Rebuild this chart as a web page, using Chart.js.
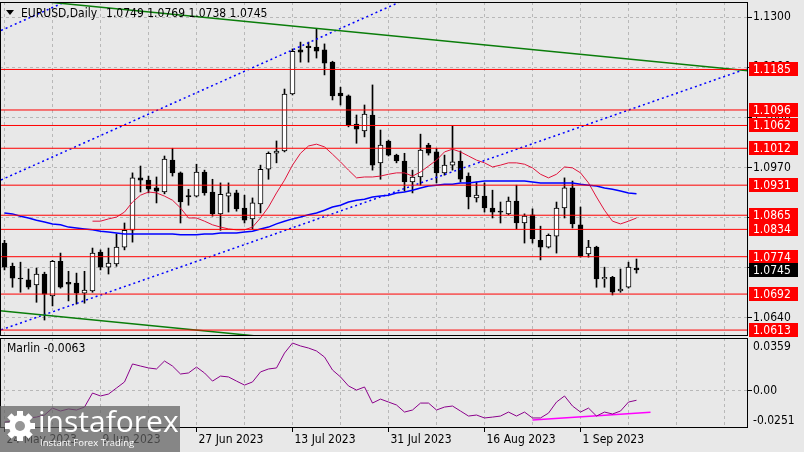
<!DOCTYPE html>
<html>
<head>
<meta charset="utf-8">
<title>EURUSD Daily</title>
<script src="https://cdn.jsdelivr.net/npm/chart.js@4.4.0/dist/chart.umd.min.js"></script>
<style>
  html, body { margin: 0; padding: 0; background: #e8e8e8; }
  #wrap { position: relative; width: 804px; height: 452px; overflow: hidden; }
  canvas { position: absolute; left: 0; }
  #priceCanvas { top: 0; }
  #marlinCanvas { top: 337px; }
</style>
</head>
<body>
<div id="wrap">
  <canvas id="priceCanvas" width="804" height="337"></canvas>
  <canvas id="marlinCanvas" width="804" height="115"></canvas>
</div>
<script>
const FONT_FAMILY = '"DejaVu Sans Condensed", "DejaVu Sans", sans-serif';
const GRID = '#b8b8b8';

// one label every 12 daily bars, starting at bar 0
const dateLabels = ['24 May 2023', '9 Jun 2023', '27 Jun 2023', '13 Jul 2023', '31 Jul 2023', '16 Aug 2023', '1 Sep 2023'];

const opens  = [1.0804, 1.0753, 1.0727, 1.0723, 1.0712, 1.0736, 1.0688, 1.0764, 1.0718, 1.0716,
                1.0694, 1.0699, 1.0784, 1.0751, 1.0758, 1.0795, 1.0832, 1.0947, 1.0942, 1.0925,
                1.0916, 1.0986, 1.0958, 1.0908, 1.0907, 1.0960, 1.0916, 1.0868, 1.0907, 1.0914,
                1.0881, 1.0857, 1.0890, 1.0966, 1.1001, 1.1006, 1.1131, 1.1228, 1.1236, 1.1234,
                1.1228, 1.1201, 1.1133, 1.1127, 1.1065, 1.1050, 1.1085, 1.0980, 1.1028, 1.0997,
                1.0984, 1.0938, 1.0949, 1.1019, 1.1004, 1.0958, 1.0975, 1.0984, 1.0951, 1.0903,
                1.0907, 1.0881, 1.0874, 1.0868, 1.0896, 1.0848, 1.0866, 1.0810, 1.0795, 1.0819,
                1.0881, 1.0925, 1.0844, 1.0780, 1.0795, 1.0725, 1.0729, 1.0699, 1.0707, 1.0749];
const highs  = [1.0810, 1.0760, 1.0762, 1.0747, 1.0749, 1.0740, 1.0766, 1.0782, 1.0742, 1.0738,
                1.0742, 1.0793, 1.0789, 1.0793, 1.0824, 1.0848, 1.0958, 1.0973, 1.0951, 1.0949,
                1.0995, 1.1012, 1.0960, 1.0922, 1.0977, 1.0964, 1.0944, 1.0936, 1.0936, 1.0920,
                1.0909, 1.0903, 1.0975, 1.1004, 1.1028, 1.1142, 1.1230, 1.1245, 1.1245, 1.1274,
                1.1241, 1.1203, 1.1146, 1.1129, 1.1085, 1.1107, 1.1151, 1.1052, 1.1030, 1.0999,
                1.1001, 1.0964, 1.1043, 1.1023, 1.1012, 1.0997, 1.1061, 1.1006, 1.0958, 1.0938,
                1.0936, 1.0920, 1.0894, 1.0905, 1.0931, 1.0868, 1.0879, 1.0841, 1.0824, 1.0894,
                1.0947, 1.0940, 1.0883, 1.0810, 1.0797, 1.0751, 1.0731, 1.0747, 1.0762, 1.0769];
const lows   = [1.0745, 1.0707, 1.0696, 1.0703, 1.0674, 1.0635, 1.0666, 1.0705, 1.0677, 1.0670,
                1.0672, 1.0696, 1.0745, 1.0736, 1.0753, 1.0789, 1.0806, 1.0916, 1.0914, 1.0892,
                1.0912, 1.0951, 1.0848, 1.0887, 1.0905, 1.0909, 1.0863, 1.0832, 1.0872, 1.0874,
                1.0848, 1.0835, 1.0870, 1.0944, 1.0980, 1.1004, 1.1129, 1.1201, 1.1201, 1.1210,
                1.1173, 1.1118, 1.1107, 1.1059, 1.1023, 1.1037, 1.0964, 1.0944, 1.0995, 1.0980,
                1.0918, 1.0914, 1.0931, 1.0997, 1.0936, 1.0953, 1.0964, 1.0938, 1.0879, 1.0894,
                1.0872, 1.0859, 1.0848, 1.0866, 1.0835, 1.0804, 1.0804, 1.0767, 1.0793, 1.0782,
                1.0859, 1.0837, 1.0773, 1.0773, 1.0707, 1.0707, 1.0690, 1.0696, 1.0705, 1.0738];
const closes = [1.0751, 1.0727, 1.0725, 1.0707, 1.0736, 1.0692, 1.0764, 1.0707, 1.0714, 1.0694,
                1.0701, 1.0782, 1.0751, 1.0760, 1.0795, 1.0832, 1.0947, 1.0942, 1.0922, 1.0918,
                1.0988, 1.0958, 1.0894, 1.0905, 1.0960, 1.0914, 1.0868, 1.0911, 1.0914, 1.0879,
                1.0854, 1.0892, 1.0966, 1.1001, 1.1006, 1.1131, 1.1225, 1.1223, 1.1233, 1.1225,
                1.1199, 1.1127, 1.1127, 1.1063, 1.1054, 1.1087, 1.0975, 1.1019, 1.0997, 1.0984,
                1.0938, 1.0949, 1.1008, 1.1001, 1.0958, 1.0975, 1.0982, 1.0944, 1.0905, 1.0909,
                1.0881, 1.0872, 1.0872, 1.0896, 1.0848, 1.0863, 1.0813, 1.0795, 1.0821, 1.0881,
                1.0925, 1.0846, 1.0775, 1.0795, 1.0725, 1.0729, 1.0696, 1.0703, 1.0751, 1.0745];

// red (fast) and blue (slow) moving averages
const maFast = [null, null, null, null, null, null, null, null, null, null,
                null, 1.0852, 1.0852, 1.0857, 1.0861, 1.0872, 1.0894, 1.0909, 1.0916, 1.0914,
                1.0907, 1.0898, 1.0881, 1.0859, 1.0859, 1.0852, 1.0844, 1.0839, 1.0835, 1.0833,
                1.0833, 1.0839, 1.0859, 1.0883, 1.0914, 1.0942, 1.0975, 1.1001, 1.1017, 1.1021,
                1.1015, 1.0999, 1.0982, 1.0964, 1.0947, 1.0949, 1.0949, 1.0951, 1.0955, 1.0958,
                1.0958, 1.0951, 1.0960, 1.0973, 1.0986, 1.1004, 1.1010, 1.1004, 1.0995, 1.0986,
                1.0980, 1.0971, 1.0975, 1.0980, 1.0980, 1.0977, 1.0969, 1.0955, 1.0947, 1.0955,
                1.0971, 1.0969, 1.0958, 1.0936, 1.0905, 1.0876, 1.0852, 1.0846, 1.0852, 1.0859];
const maSlow = [1.0870, 1.0868, 1.0863, 1.0859, 1.0854, 1.0850, 1.0846, 1.0844, 1.0839, 1.0837,
                1.0835, 1.0833, 1.0830, 1.0828, 1.0826, 1.0824, 1.0824, 1.0824, 1.0824, 1.0824,
                1.0824, 1.0824, 1.0822, 1.0822, 1.0822, 1.0824, 1.0824, 1.0826, 1.0826, 1.0826,
                1.0828, 1.0830, 1.0835, 1.0839, 1.0846, 1.0852, 1.0857, 1.0861, 1.0866, 1.0870,
                1.0876, 1.0883, 1.0887, 1.0894, 1.0898, 1.0900, 1.0905, 1.0907, 1.0909, 1.0914,
                1.0916, 1.0920, 1.0925, 1.0929, 1.0931, 1.0933, 1.0933, 1.0936, 1.0936, 1.0938,
                1.0940, 1.0940, 1.0940, 1.0940, 1.0940, 1.0940, 1.0938, 1.0936, 1.0936, 1.0936,
                1.0936, 1.0936, 1.0933, 1.0931, 1.0929, 1.0925, 1.0922, 1.0918, 1.0914, 1.0912];

const marlin = [-0.0211, -0.0204, -0.0197, -0.0183, -0.0177, -0.0163, -0.0116, -0.0136, -0.0122, -0.0129,
                -0.0109, -0.0014, -0.0034, -0.0021, 0.0020, 0.0061, 0.0183, 0.0169, 0.0156, 0.0149,
                0.0203, 0.0169, 0.0115, 0.0122, 0.0162, 0.0122, 0.0067, 0.0101, 0.0095, 0.0067,
                0.0040, 0.0061, 0.0129, 0.0149, 0.0156, 0.0257, 0.0325, 0.0305, 0.0291, 0.0271,
                0.0230, 0.0142, 0.0095, 0.0034, 0.0006, 0.0027, -0.0082, -0.0055, -0.0075, -0.0095,
                -0.0143, -0.0129, -0.0082, -0.0082, -0.0129, -0.0109, -0.0102, -0.0136, -0.0170, -0.0163,
                -0.0183, -0.0177, -0.0170, -0.0143, -0.0170, -0.0143, -0.0183, -0.0183, -0.0150, -0.0075,
                -0.0034, -0.0102, -0.0143, -0.0116, -0.0170, -0.0143, -0.0156, -0.0136, -0.0075, -0.0063];

const levels = [1.1185, 1.1096, 1.1062, 1.1012, 1.0931, 1.0865, 1.0834, 1.0774, 1.0692, 1.0613];
const priceTicks = [1.0640, 1.0750, 1.0860, 1.0970, 1.1080, 1.1190, 1.1300];
const marlinRange = [-0.0251, 0.0359];

// trend lines as [bar, price] pairs
const greenUpper = [[-1, 1.1344], [93, 1.1182]];
const greenLower = [[-1, 1.0656], [93, 1.0494]];
const blueLower  = [[-1, 1.0610], [93, 1.1188]];
const blueUpper  = [[-1, 1.0938], [60, 1.1416]];
const blueTop    = [[-1, 1.1266], [12, 1.1368]];
const marlinSupport = [[66, -0.0197], [80.75, -0.0145]];

const gridBars = Array.from({ length: 16 }, (_, k) => k * 6);
const last = closes.length - 1;

Chart.defaults.font.family = FONT_FAMILY;
Chart.defaults.font.size = 12;
Chart.defaults.color = '#000';

const toPoints = arr => arr.map(([x, y]) => ({ x, y }));
const seriesPoints = arr => arr.map((v, i) => ({ x: i, y: v })).filter(p => p.y !== null);

function lineSet(data, color, width, dash) {
    return {
        type: 'line',
        data,
        borderColor: color,
        borderWidth: width,
        borderDash: dash || [],
        pointRadius: 0,
        fill: false,
        tension: 0,
        order: 0
    };
}

// no extra room around the plot for edge labels
function noPadding(s) {
    s.paddingTop = 0;
    s.paddingBottom = 0;
    s.paddingLeft = 0;
    s.paddingRight = 0;
}

const xRange = { min: -0.5625, max: 92.9375 };

const priceOverlay = {
    id: 'priceOverlay',
    afterDraw(chart) {
        const { ctx, chartArea: area, scales: { y } } = chart;
        ctx.save();
        ctx.strokeStyle = '#000';
        ctx.lineWidth = 1;
        ctx.strokeRect(area.left + 0.5, area.top + 0.5, area.right - area.left - 1, area.bottom - area.top - 1);

        ctx.font = '12px ' + FONT_FAMILY;
        ctx.textBaseline = 'middle';
        ctx.textAlign = 'left';
        const tag = (value, fill) => {
            const py = Math.round(y.getPixelForValue(value));
            ctx.fillStyle = fill;
            ctx.fillRect(area.right + 1, py - 7, 49, 14);
            ctx.fillStyle = '#fff';
            ctx.fillText(value.toFixed(4), area.right + 5, py + 0.5);
        };
        levels.forEach(v => tag(v, '#ff0000'));
        tag(closes[last], '#000');

        // chart title
        ctx.fillStyle = '#000';
        ctx.beginPath();
        ctx.moveTo(6, 10); ctx.lineTo(14, 10); ctx.lineTo(10, 15);
        ctx.closePath();
        ctx.fill();
        const name = 'EURUSD,Daily';
        ctx.fillText(name, 21, 14);
        const ohlc = [opens[last], highs[last], lows[last], closes[last]].map(v => v.toFixed(4)).join(' ');
        ctx.fillText(ohlc, 21 + ctx.measureText(name).width + 9, 14);
        ctx.restore();
    }
};

function drawLogo(ctx, h) {
    const top = h - 46;
    ctx.fillStyle = 'rgba(96, 96, 96, 0.72)';
    ctx.fillRect(0, top, 180, 46);
    const cx = 20, cy = top + 20;
    ctx.fillStyle = '#fff';
    for (let k = 0; k < 8; k++) {
        ctx.save();
        ctx.translate(cx, cy);
        ctx.rotate(k * Math.PI / 4);
        ctx.fillRect(-3, -15, 6, 6);
        ctx.restore();
    }
    ctx.beginPath(); ctx.arc(cx, cy, 11, 0, Math.PI * 2); ctx.fill();
    ctx.fillStyle = 'rgb(150, 150, 150)';
    ctx.beginPath(); ctx.arc(cx, cy, 5, 0, Math.PI * 2); ctx.fill();
    ctx.fillStyle = '#fff';
    ctx.textAlign = 'left';
    ctx.textBaseline = 'alphabetic';
    ctx.font = '30px "Open Sans", Lato, sans-serif';
    ctx.fillText('instaforex', 38, top + 26);
    ctx.font = '9.5px "Open Sans", sans-serif';
    ctx.fillText('Instant Forex Trading', 40, top + 40);
}

const marlinOverlay = {
    id: 'marlinOverlay',
    afterDraw(chart) {
        const { ctx, chartArea: area, scales: { y } } = chart;
        ctx.save();
        ctx.strokeStyle = '#000';
        ctx.lineWidth = 1;
        ctx.strokeRect(area.left + 0.5, area.top + 0.5, area.right - area.left - 1, area.bottom - area.top - 1);
        ctx.font = '12px ' + FONT_FAMILY;
        ctx.textBaseline = 'middle';
        ctx.textAlign = 'left';
        ctx.fillStyle = '#000';
        ctx.fillText('Marlin ' + marlin[last].toFixed(4), area.left + 7, area.top + 11);
        ctx.fillText(marlinRange[1].toFixed(4), area.right + 5, y.getPixelForValue(marlinRange[1]) + 9);
        ctx.fillText(marlinRange[0].toFixed(4), area.right + 5, y.getPixelForValue(marlinRange[0]) - 7);
        drawLogo(ctx, chart.height);
        ctx.restore();
    }
};

new Chart(document.getElementById('priceCanvas'), {
    type: 'bar',
    data: {
        datasets: [
            lineSet(levels.flatMap(v => [{ x: -1, y: v }, { x: 94, y: v }, { x: null, y: null }]), '#ff0000', 1),
            lineSet(toPoints(greenUpper), '#0a7d0a', 1.5),
            lineSet(toPoints(greenLower), '#0a7d0a', 1.5),
            lineSet(toPoints(blueLower), '#0000ff', 1.5, [2, 3]),
            lineSet(toPoints(blueUpper), '#0000ff', 1.5, [2, 3]),
            lineSet(toPoints(blueTop), '#0000ff', 1.5, [2, 3]),
            lineSet(seriesPoints(maSlow), '#0000ff', 1.5),
            lineSet(seriesPoints(maFast), '#e0143c', 1),
            {
                data: opens.map((o, i) => ({ x: i, y: [o, closes[i]] })),
                backgroundColor: opens.map((o, i) => closes[i] >= o ? '#ffffff' : '#000000'),
                borderColor: '#000',
                borderWidth: 1,
                borderSkipped: false,
                barThickness: 5,
                minBarLength: 1,
                grouped: false,
                order: 1
            },
            {
                data: highs.map((h, i) => ({ x: i, y: [lows[i], h] })),
                backgroundColor: '#000',
                borderWidth: 0,
                barThickness: 1,
                grouped: false,
                order: 2
            }
        ]
    },
    options: {
        responsive: false,
        animation: false,
        devicePixelRatio: 1,
        layout: { padding: { left: 0, right: 0, top: 2, bottom: 1 } },
        plugins: { legend: { display: false }, tooltip: { enabled: false } },
        scales: {
            x: {
                type: 'linear', min: xRange.min, max: xRange.max, offset: false,
                afterBuildTicks: s => { s.ticks = gridBars.map(v => ({ value: v })); },
                afterFit: s => { s.height = 0; noPadding(s); },
                ticks: { display: false },
                grid: { color: GRID, drawTicks: false, offset: false },
                border: { display: false, dash: [3, 3] }
            },
            y: {
                type: 'linear', position: 'right', min: 1.0600, max: 1.1333,
                afterBuildTicks: s => { s.ticks = priceTicks.map(v => ({ value: v })); },
                afterFit: s => { s.width = 56; noPadding(s); },
                ticks: { callback: v => Number(v).toFixed(4), padding: 1 },
                grid: { color: GRID, tickColor: '#000', tickLength: 4 },
                border: { display: false, dash: [3, 3] }
            }
        }
    },
    plugins: [priceOverlay]
});

new Chart(document.getElementById('marlinCanvas'), {
    type: 'line',
    data: {
        datasets: [
            lineSet(seriesPoints(marlin), '#8b008b', 1),
            lineSet(toPoints(marlinSupport), '#ff00ff', 1.5)
        ]
    },
    options: {
        responsive: false,
        animation: false,
        devicePixelRatio: 1,
        layout: { padding: { left: 0, right: 0, top: 1, bottom: 0 } },
        plugins: { legend: { display: false }, tooltip: { enabled: false } },
        scales: {
            x: {
                type: 'linear', min: xRange.min, max: xRange.max, offset: false,
                afterBuildTicks: s => { s.ticks = gridBars.map(v => ({ value: v })); },
                afterFit: s => { s.height = 24; noPadding(s); },
                ticks: {
                    autoSkip: false, maxRotation: 0, minRotation: 0, align: 'start',
                    labelOffset: 2, padding: 1,
                    callback: v => (v % 12 === 0 && dateLabels[v / 12]) ? dateLabels[v / 12] : ''
                },
                grid: {
                    color: GRID, tickLength: 4, offset: false,
                    tickColor: c => (c.tick && c.tick.value % 12 === 0 && dateLabels[c.tick.value / 12]) ? '#000' : 'rgba(0,0,0,0)'
                },
                border: { display: false, dash: [3, 3] }
            },
            y: {
                type: 'linear', position: 'right', min: marlinRange[0], max: marlinRange[1],
                afterBuildTicks: s => { s.ticks = [{ value: 0 }]; },
                afterFit: s => { s.width = 56; noPadding(s); },
                ticks: { callback: () => '0.00', padding: 1 },
                grid: { color: GRID, tickColor: '#000', tickLength: 4 },
                border: { display: false, dash: [3, 3] }
            }
        }
    },
    plugins: [marlinOverlay]
});
</script>
</body>
</html>
